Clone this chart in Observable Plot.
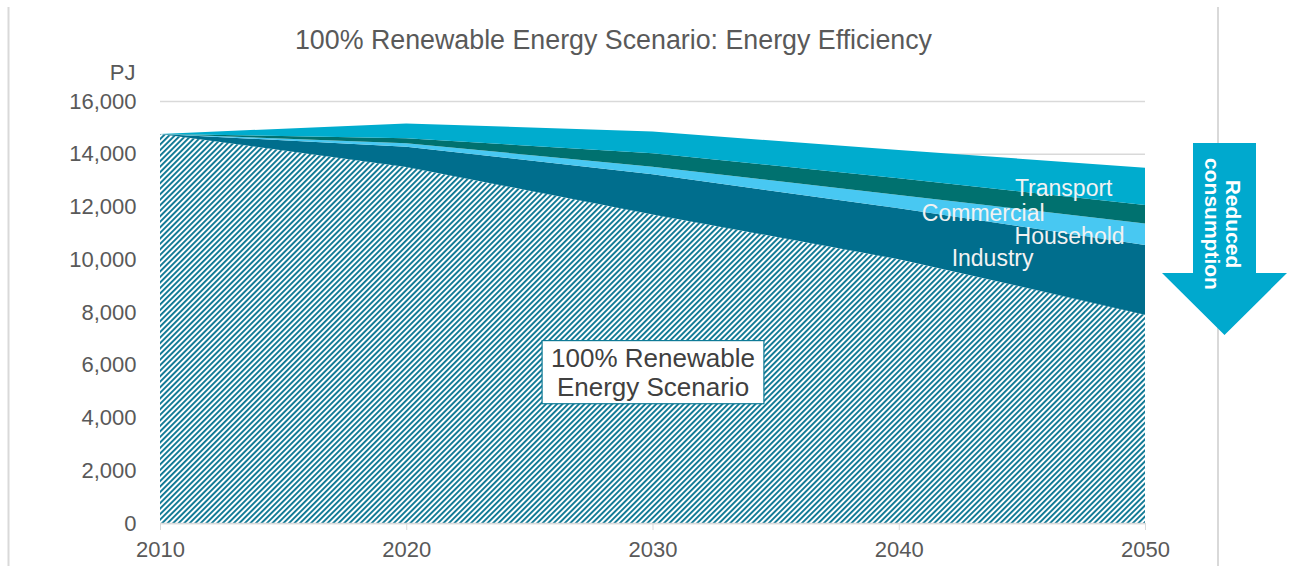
<!DOCTYPE html>
<html><head><meta charset="utf-8">
<script src="https://cdn.jsdelivr.net/npm/d3@7"></script>
<script src="https://cdn.jsdelivr.net/npm/@observablehq/plot@0.6"></script>
<style>
body{margin:0;background:#fff;font-family:"Liberation Sans",Arial,sans-serif;}
#wrap{position:relative;width:1293px;height:566px;overflow:hidden;background:#fff;}
#title{position:absolute;left:0;width:1227px;top:24px;margin:0;text-align:center;font-weight:normal;font-size:26.8px;line-height:32px;color:#595959;font-family:"Liberation Sans",Arial,sans-serif;}
#overlay{position:absolute;left:0;top:0;}
</style></head><body>
<div id="wrap">
  <h2 id="title">100% Renewable Energy Scenario: Energy Efficiency</h2>
</div>
<script>
// ---- data ----
const years = [2010, 2020, 2030, 2040, 2050];
const series = ["100% Renewable Energy Scenario", "Industry", "Household", "Commercial", "Transport"];
const scenario   = [14750, 13500, 11700, 10000, 7900];
const industry   = [0, 770, 1520, 1930, 2640];
const household  = [0, 130, 290, 510, 820];
const commercial = [0, 190, 510, 630, 700];
const transport  = [0, 560, 820, 1070, 1410];
const yTicks = [0, 2000, 4000, 6000, 8000, 10000, 12000, 14000, 16000];
const xTicks = [2010, 2020, 2030, 2040, 2050];
const seriesColors = ["url(#hatch)", "#006E8D", "#48C8F2", "#00716F", "#00ACCE"];
const labelNames = ["Transport", "Commercial", "Household", "Industry"];
const labelX = [2048.66, 2045.9, 2049.15, 2045.45];
const labelY = [12700, 11750, 10880, 10050];
const boxLabel = "100% Renewable\nEnergy Scenario";
const boxX = 2030, boxY = 5750;

const valuesBySeries = [scenario, industry, household, commercial, transport];
const data = series.flatMap((s, i) => years.map((yr, j) => ({series: s, year: yr, value: valuesBySeries[i][j]})));
const labels = labelNames.map((n, i) => ({name: n, x: labelX[i], y: labelY[i]}));

const plot = Plot.plot({
  width: 1293, height: 566,
  marginLeft: 160, marginRight: 148, marginTop: 101, marginBottom: 43,
  x: {domain: [2010, 2050]},
  y: {domain: [0, 16000]},
  color: {domain: series, range: seriesColors},
  style: {fontFamily: "'Liberation Sans', Arial, sans-serif", fontSize: "22px", color: "#595959", background: "transparent", overflow: "visible"},
  marks: [
    Plot.gridY(yTicks, {stroke: "#d9d9d9", strokeOpacity: 1, strokeWidth: 1.5}),
    Plot.areaY(data, {x: "year", y: "value", fill: "series", order: series}),
    Plot.ruleY([0], {stroke: "#d9d9d9", strokeWidth: 1.5}),
    Plot.axisY(yTicks, {tickSize: 0, tickPadding: 24, tickFormat: d3.format(","), label: null, fill: "#595959"}),
    Plot.axisX(xTicks, {tickSize: 7, tickPadding: 11, tickFormat: d => `${d}`, label: null, stroke: "#d9d9d9", fill: "#595959"}),
    Plot.text(["PJ"], {frameAnchor: "top-left", dx: -25, dy: -29, textAnchor: "end", lineAnchor: "middle", fill: "#595959", fontSize: 22}),
    Plot.text(labels, {x: "x", y: "y", text: "name", textAnchor: "end", fill: "#f2f2f2", fontSize: 23}),
    Plot.text([boxLabel], {x: () => boxX, y: () => boxY, text: d => d, fill: "#404040", fontSize: 26, lineHeight: 1.12, className: "boxlabel"})
  ]
});

plot.insertAdjacentHTML("afterbegin",
  `<defs><pattern id="hatch" patternUnits="userSpaceOnUse" width="3.9" height="3.9" patternTransform="rotate(45)">
     <rect width="3.9" height="3.9" fill="#ffffff"/>
     <rect width="1.9" height="3.9" fill="#0E7894"/>
   </pattern></defs>`);

const wrap = document.getElementById("wrap");
wrap.insertBefore(plot, wrap.firstChild);

// white box behind the scenario label
const g = plot.querySelector("g.boxlabel");
if (g) {
  const bb = g.getBBox();
  const r = document.createElementNS("http://www.w3.org/2000/svg", "rect");
  r.setAttribute("x", bb.x - 9);
  r.setAttribute("y", bb.y - 2);
  r.setAttribute("width", bb.width + 18);
  r.setAttribute("height", bb.height + 4);
  r.setAttribute("fill", "#fff");
  r.setAttribute("stroke", "#0F7B97");
  r.setAttribute("stroke-width", "1.2");
  g.insertBefore(r, g.firstChild);
}

// decorative overlay: frame lines and "Reduced consumption" arrow
wrap.insertAdjacentHTML("beforeend",
  `<svg id="overlay" width="1293" height="566" xmlns="http://www.w3.org/2000/svg">
     <line x1="8.5" y1="7" x2="8.5" y2="566" stroke="#d9d9d9" stroke-width="2"/>
     <line x1="1218" y1="7" x2="1218" y2="566" stroke="#d9d9d9" stroke-width="2"/>
     <polygon points="1193,143 1256,143 1256,273 1287,273 1224.5,335 1162,273 1193,273" fill="#00A9CE"/>
     <g transform="translate(1222.5,224) rotate(90)" font-family="'Liberation Sans', Arial, sans-serif" font-size="21" font-weight="bold" fill="#fff" text-anchor="middle">
       <text x="0" y="-10.5" dominant-baseline="central">Reduced</text>
       <text x="0" y="10.5" dominant-baseline="central">consumption</text>
     </g>
   </svg>`);
</script>
</body></html>
